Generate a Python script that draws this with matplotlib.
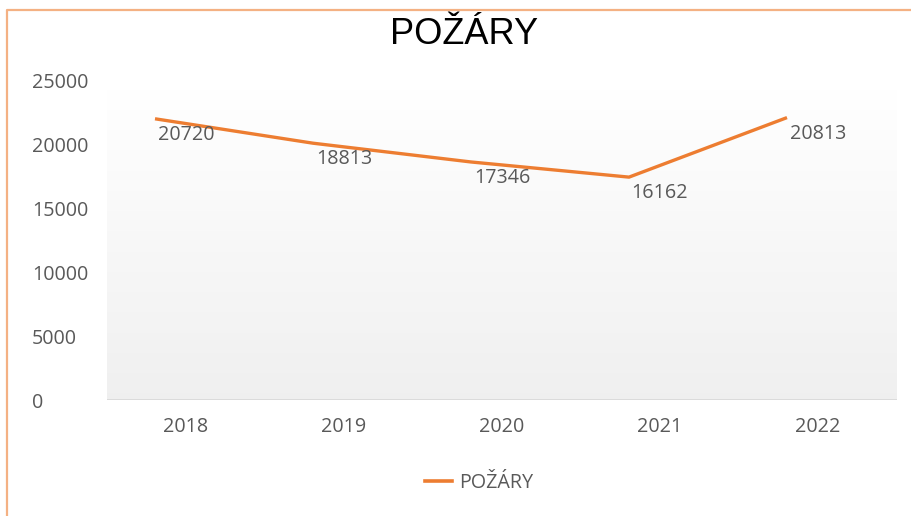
import numpy as np
import matplotlib
matplotlib.use("Agg")
import matplotlib.pyplot as plt
import matplotlib.transforms as mtransforms
from matplotlib.lines import Line2D

years = ["2018", "2019", "2020", "2021", "2022"]
pozary = [20720, 18813, 17346, 16162, 20813]
series_name = "POŽÁRY"
yticks = [0, 5000, 10000, 15000, 20000, 25000]

W, H = 911, 516
fig = plt.figure(figsize=(W / 100, H / 100), dpi=100)
fig.patch.set_facecolor("white")

# plot area in pixel terms
left, right, top, bottom = 107, 897, 80, 400
ax = fig.add_axes([left / W, 1 - bottom / H, (right - left) / W, (bottom - top) / H])
ax.set_facecolor("none")

x = np.arange(len(years))
ax.set_xlim(-0.5, len(years) - 0.5)
ax.set_ylim(0, 25000)

# gradient background (white -> light grey)
grad = np.linspace(1.0, 0.94, 256).reshape(-1, 1)
ax.imshow(np.dstack([grad, grad, grad]), extent=[0, 1, 0, 0.97], transform=ax.transAxes,
          aspect="auto", zorder=0)

for s in ax.spines.values():
    s.set_visible(False)
ax.axhline(0, color="#d9d9d9", lw=2, zorder=1)

grey = "#595959"
font = "Open Sans"
fs = 14.2
ax.set_yticks(yticks)
ax.set_yticklabels([str(v) for v in yticks], fontsize=fs, color=grey, family=font, ha="left")
ax.tick_params(axis="y", length=0, pad=54)
ax.set_xticks(x)
ax.set_xticklabels(years, fontsize=fs, color=grey, family=font)
ax.tick_params(axis="x", length=0, pad=12)

# line is drawn slightly shifted up/left of the labels, like the original rendering
shifted = mtransforms.offset_copy(ax.transData, fig=fig, x=-31, y=16, units="dots")
ax.plot(x, pozary, color="#ED7D31", lw=2.4, transform=shifted, zorder=3,
        solid_capstyle="butt")

for xi, v in zip(x, pozary):
    ax.text(xi, v, str(v), ha="center", va="center", fontsize=fs, color=grey,
            family=font, zorder=4)

fig.text(464 / W, 1 - 34 / H, "POŽÁRY", ha="center", va="center", fontsize=26,
         family="Liberation Sans", color="black")

handle = Line2D([], [], color="#ED7D31", lw=2.6)
leg = fig.legend([handle], [series_name], loc="center", bbox_to_anchor=(479 / W, 1 - 483 / H),
                 frameon=False, handlelength=1.4, handletextpad=0.35,
                 prop={"family": font, "size": fs})
for t in leg.get_texts():
    t.set_color(grey)

# orange chart border (partially cropped)
bc = "#F4B183"
fig.add_artist(Line2D([7 / W, 7 / W, 1], [0, 1 - 10 / H, 1 - 10 / H], color=bc, lw=1.6,
                      transform=fig.transFigure))

fig.savefig("out.png", dpi=100)
